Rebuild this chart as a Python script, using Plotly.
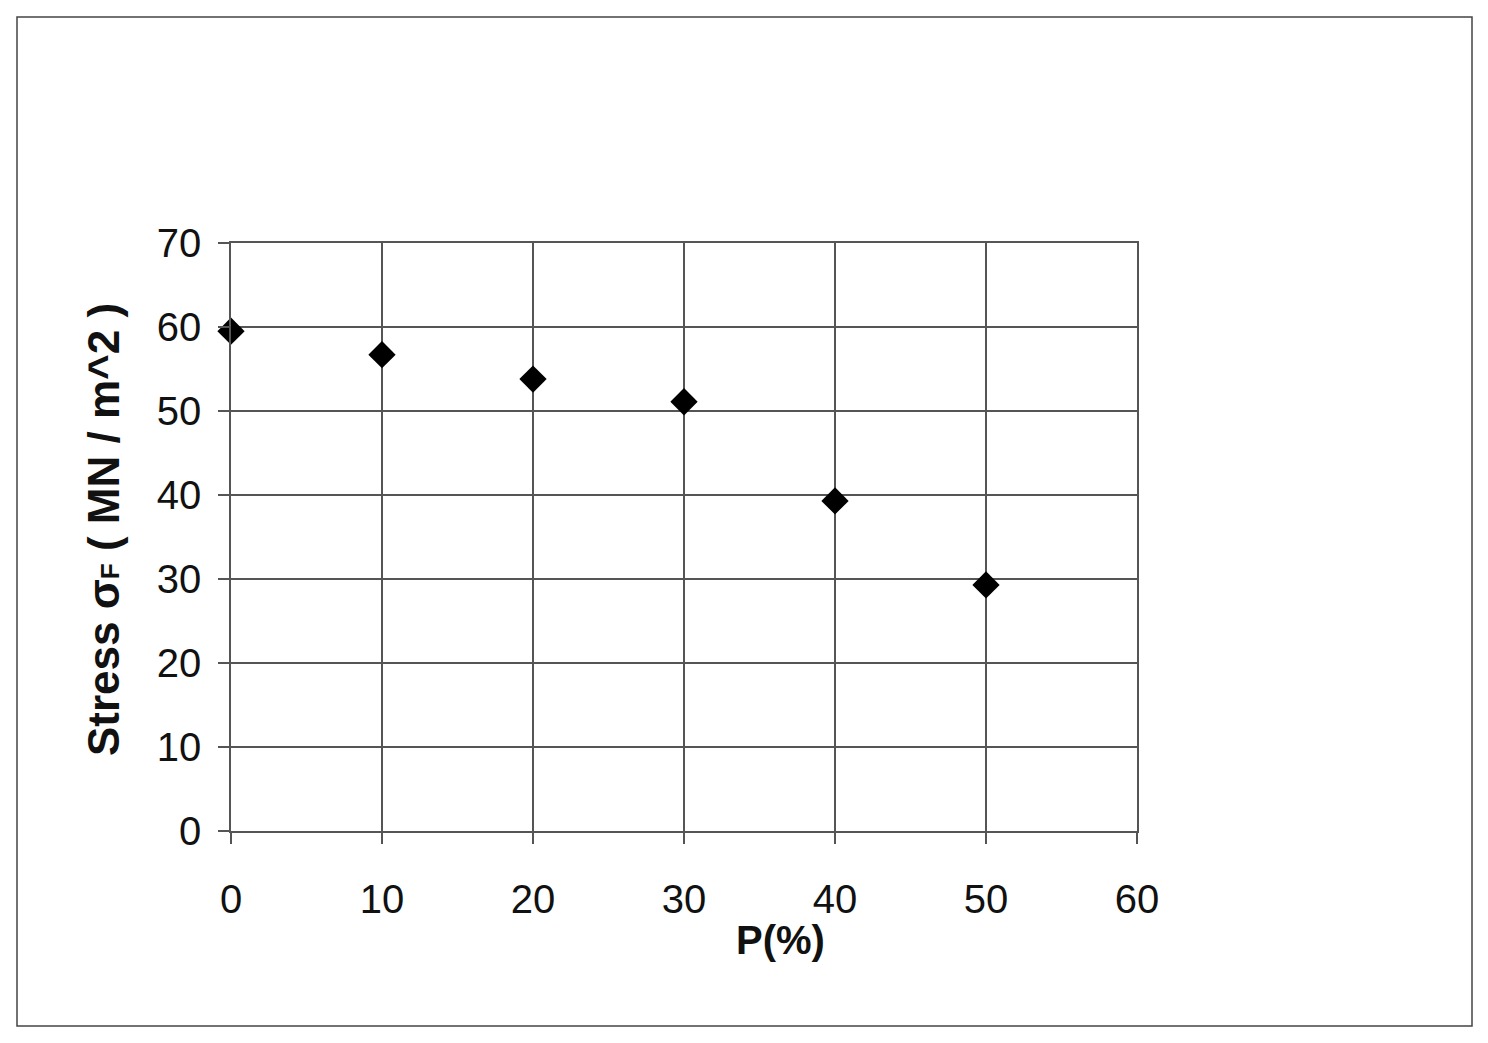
import plotly.graph_objects as go

# Data
p_percent = [0, 10, 20, 30, 40, 50]
stress = [59.5, 56.7, 53.8, 51.1, 39.3, 29.3]
x_ticks = [0, 10, 20, 30, 40, 50, 60]
y_ticks = [0, 10, 20, 30, 40, 50, 60, 70]

# page offset (browser body margin)
OFF = 8
W, H = 1488 - OFF, 1043 - OFF
L, R, T, B = 231 - OFF, 1137 - OFF, 243 - OFF, 831 - OFF

fig = go.Figure()
fig.add_trace(go.Scatter(
    x=p_percent, y=stress, mode="markers", cliponaxis=False,
    marker=dict(symbol="diamond", size=21, color="black", line=dict(width=0)),
    showlegend=False,
))

tick_font = dict(family="Liberation Sans, Arial, sans-serif", size=40, color="#111")
grid_col = "#555555"

fig.update_xaxes(
    range=[0, 60], tickvals=x_ticks, ticktext=[str(v) for v in x_ticks],
    showgrid=True, gridcolor=grid_col, gridwidth=1.5,
    showline=True, linecolor=grid_col, linewidth=1.5, mirror=True,
    ticks="outside", ticklen=11, tickcolor=grid_col, tickwidth=1.5,
    tickfont=tick_font, zeroline=False, ticklabelstandoff=21,
)
fig.update_yaxes(
    range=[0, 70], tickvals=y_ticks, ticktext=[str(v) for v in y_ticks],
    showgrid=True, gridcolor=grid_col, gridwidth=1.5,
    showline=True, linecolor=grid_col, linewidth=1.5, mirror=True,
    ticks="outside", ticklen=11, tickcolor=grid_col, tickwidth=1.5,
    tickfont=tick_font, zeroline=False, ticklabelstandoff=9,
)

pw, ph = R - L, B - T
def px(x):
    return (x - OFF - L) / pw
def py(y):
    return (B - (y - OFF)) / ph

title_font = dict(family="Liberation Sans, Arial, sans-serif", size=44, color="#111")
fig.add_annotation(
    x=px(103), y=py(530), xref="paper", yref="paper",
    text="<b>Stress σ<span style='font-size:26px'>F</span> ( MN / m^2 )</b>", textangle=-90,
    showarrow=False, font=title_font, xanchor="center", yanchor="middle",
)
fig.add_annotation(
    x=px(780), y=py(940), xref="paper", yref="paper",
    text="<b>P(%)</b>", showarrow=False, font=dict(family="Liberation Sans, Arial, sans-serif", size=40, color="#111"),
    xanchor="center", yanchor="middle",
)

fig.add_shape(
    type="rect", xref="paper", yref="paper",
    x0=px(17), x1=px(1472), y0=py(1026), y1=py(17),
    line=dict(color="#444", width=1.5), fillcolor="rgba(0,0,0,0)", layer="below",
)

fig.update_layout(
    width=W, height=H,
    margin=dict(l=L, r=W - R, t=T, b=H - B),
    paper_bgcolor="white", plot_bgcolor="white",
)

fig.write_html("out.html")
